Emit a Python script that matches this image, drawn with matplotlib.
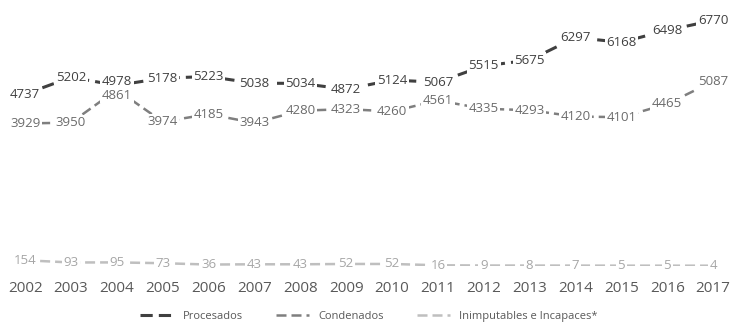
import matplotlib
matplotlib.use("Agg")
import matplotlib.pyplot as plt

years = ["2002", "2003", "2004", "2005", "2006", "2007", "2008", "2009",
         "2010", "2011", "2012", "2013", "2014", "2015", "2016", "2017"]
procesados = [4737, 5202, 4978, 5178, 5223, 5038, 5034, 4872, 5124, 5067,
              5515, 5675, 6297, 6168, 6498, 6770]
condenados = [3929, 3950, 4861, 3974, 4185, 3943, 4280, 4323, 4260, 4561,
              4335, 4293, 4120, 4101, 4465, 5087]
inimputables = [154, 93, 95, 73, 36, 43, 43, 52, 52, 16, 9, 8, 7, 5, 5, 4]

series = [
    ("Procesados", procesados, "#404040", "#404040", 2.2, 3),
    ("Condenados", condenados, "#7f7f7f", "#6b6b6b", 1.8, -4),
    ("Inimputables e Incapaces*", inimputables, "#bfbfbf", "#a6a6a6", 1.8, 0),
]

fig = plt.figure(figsize=(7.36, 3.27), dpi=100)
ax = fig.add_axes([0.003, 0.187, 0.997, 0.776])
x = list(range(len(years)))

for name, vals, lc, tc, lw, nudge in series:
    ax.plot(x, vals, color=lc, lw=lw, ls=(0, (4, 2)), label=name, zorder=2)
    for xi, v in zip(x, vals):
        # the two 2004 labels sit close together; push them apart a little
        dy = nudge if xi == 2 else 0
        ax.annotate(str(v), (xi, v), xytext=(0, dy), textcoords="offset points",
                    ha="center", va="center", fontsize=9.5, color=tc,
                    zorder=3, family="Open Sans",
                    bbox=dict(boxstyle="square,pad=0.12", fc="white", ec="none"))

ax.set_xlim(-0.5, len(years) - 0.5)
ax.set_ylim(0, 7000)
ax.set_xticks(x)
ax.set_xticklabels(years, fontsize=11, color="#595959", family="Open Sans")
ax.tick_params(axis="x", length=0, pad=11)
ax.set_yticks([])
for s in ax.spines.values():
    s.set_visible(False)

leg = ax.legend(loc="lower center", bbox_to_anchor=(0.5, -0.26), ncol=3,
                frameon=False, handlelength=3, columnspacing=3,
                prop={"family": "Open Sans", "size": 8})
for t in leg.get_texts():
    t.set_color("#595959")

fig.savefig("out.png", dpi=100)
